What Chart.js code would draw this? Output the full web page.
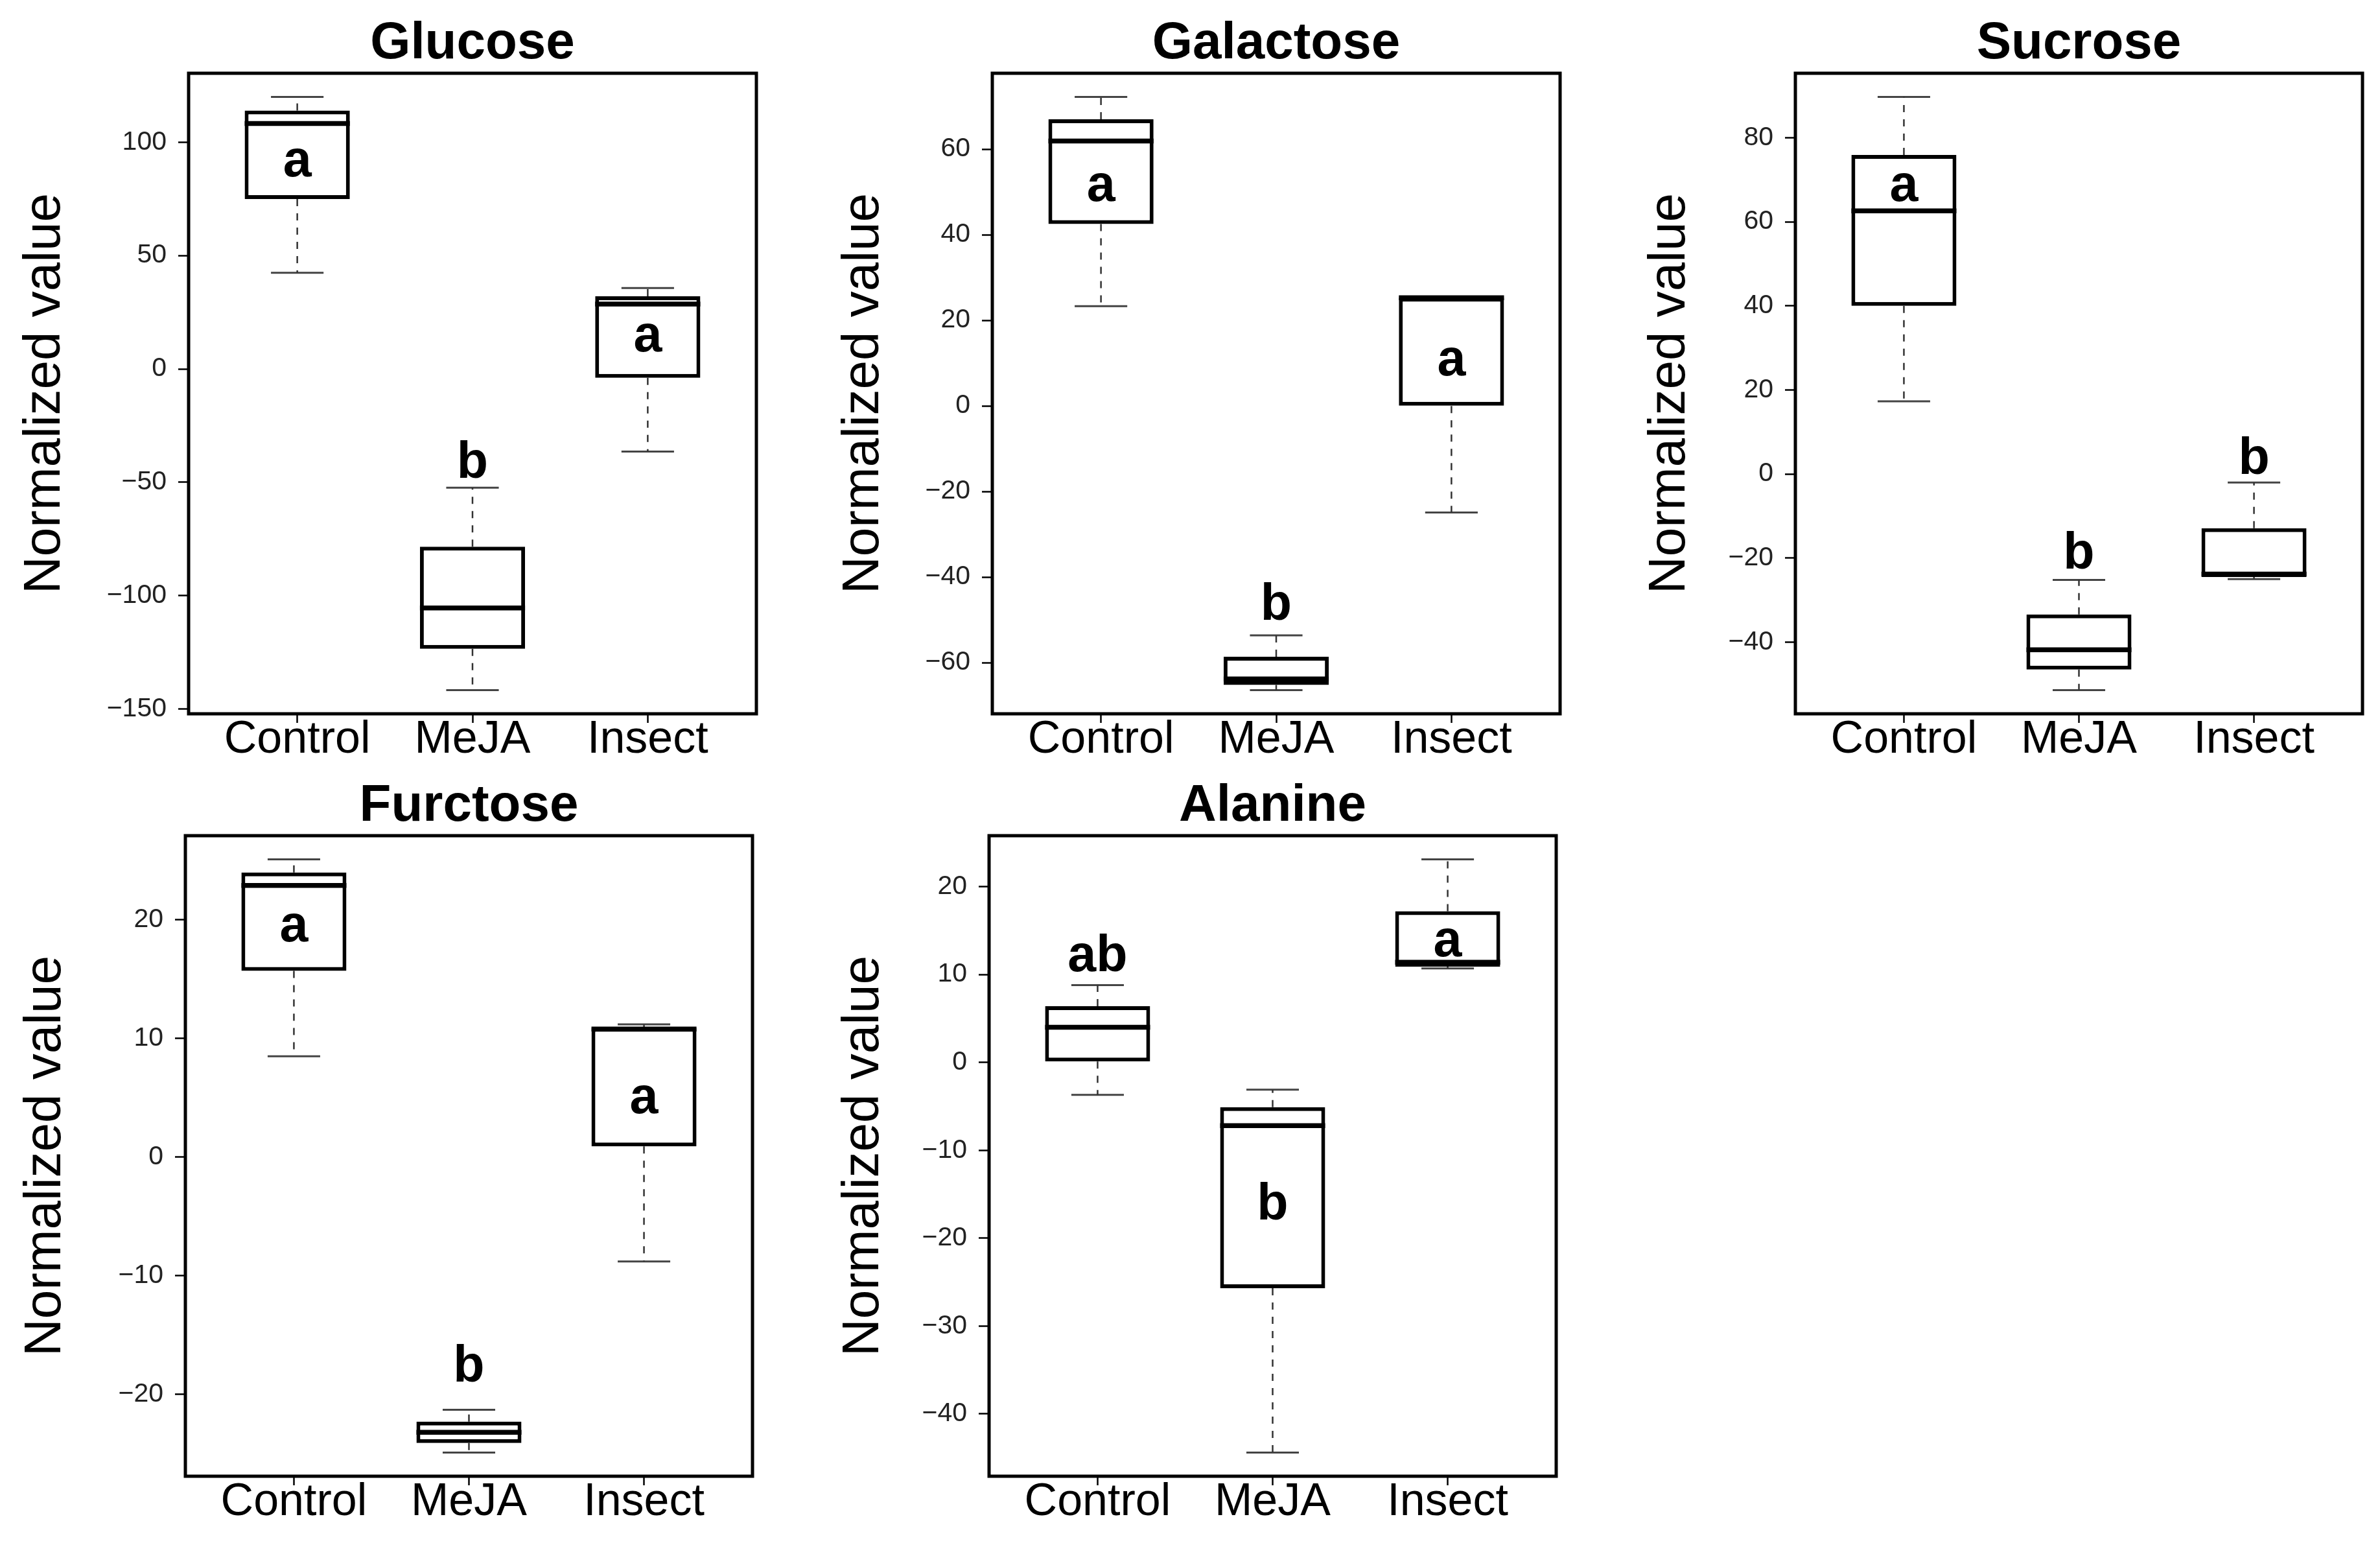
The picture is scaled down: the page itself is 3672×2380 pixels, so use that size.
<!DOCTYPE html>
<html><head><meta charset="utf-8">
<script src="https://cdn.jsdelivr.net/npm/chart.js@4"></script>
<style>
html,body{margin:0;padding:0;background:#fff;}
body{width:3672px;height:2380px;position:relative;overflow:hidden;}
.panel{position:absolute;}
</style></head><body>
<script>
const categories = ['Control', 'MeJA', 'Insect'];

const glucoseMin    = [42.4, -141.6, -36.4];
const glucoseQ1     = [74.9, -123.4, -3.9];
const glucoseMedian = [108.2, -105.4, 28.6];
const glucoseQ3     = [113.9, -78.4, 32.0];
const glucoseMax    = [119.9, -52.4, 35.7];
const glucoseLetters = ['a', 'b', 'a'];
const glucoseLetterY = [84.8, -48.1, 7.6];
const glucoseTicks = [-150, -100, -50, 0, 50, 100];

const galactoseMin    = [23.3, -66.4, -24.9];
const galactoseQ1     = [42.5, -65.2, 0.0];
const galactoseMedian = [61.9, -63.8, 25.3];
const galactoseQ3     = [67.0, -58.6, 25.3];
const galactoseMax    = [72.2, -53.6, 25.5];
const galactoseLetters = ['a', 'b', 'a'];
const galactoseLetterY = [47.9, -50.0, 7.2];
const galactoseTicks = [-60, -40, -20, 0, 20, 40, 60];

const sucroseMin    = [17.3, -51.4, -25.0];
const sucroseQ1     = [40.0, -46.5, -24.5];
const sucroseMedian = [62.6, -41.8, -23.8];
const sucroseQ3     = [75.9, -33.4, -12.9];
const sucroseMax    = [89.7, -25.2, -2.0];
const sucroseLetters = ['a', 'b', 'b'];
const sucroseLetterY = [65.0, -22.5, 0.1];
const sucroseTicks = [-40, -20, 0, 20, 40, 60, 80];

const furctoseMin    = [8.5, -24.9, -8.8];
const furctoseQ1     = [15.7, -24.1, 0.9];
const furctoseMedian = [22.9, -23.2, 10.8];
const furctoseQ3     = [24.0, -22.3, 10.9];
const furctoseMax    = [25.1, -21.3, 11.2];
const furctoseLetters = ['a', 'b', 'a'];
const furctoseLetterY = [18.2, -18.9, 3.7];
const furctoseTicks = [-20, -10, 0, 10, 20];

const alanineMin    = [-3.7, -44.4, 10.7];
const alanineQ1     = [0.1, -25.7, 10.9];
const alanineMedian = [4.0, -7.2, 11.4];
const alanineQ3     = [6.4, -5.1, 17.2];
const alanineMax    = [8.8, -3.1, 23.1];
const alanineLetters = ['ab', 'b', 'a'];
const alanineLetterY = [10.4, -17.9, 12.1];
const alanineTicks = [-40, -30, -20, -10, 0, 10, 20];

// layout (page pixels): frame [left, top, right, bottom], y-title centre x
const panels = [
  {title: 'Glucose',   min: glucoseMin,   q1: glucoseQ1,   med: glucoseMedian,   q3: glucoseQ3,   max: glucoseMax,   letters: glucoseLetters,   letterY: glucoseLetterY,   ticks: glucoseTicks,   frame: [291, 113, 1167, 1101],  yTitleX: 70},
  {title: 'Galactose', min: galactoseMin, q1: galactoseQ1, med: galactoseMedian, q3: galactoseQ3, max: galactoseMax, letters: galactoseLetters, letterY: galactoseLetterY, ticks: galactoseTicks, frame: [1531, 113, 2407, 1101], yTitleX: 1333},
  {title: 'Sucrose',   min: sucroseMin,   q1: sucroseQ1,   med: sucroseMedian,   q3: sucroseQ3,   max: sucroseMax,   letters: sucroseLetters,   letterY: sucroseLetterY,   ticks: sucroseTicks,   frame: [2770, 113, 3645, 1101], yTitleX: 2577},
  {title: 'Furctose',  min: furctoseMin,  q1: furctoseQ1,  med: furctoseMedian,  q3: furctoseQ3,  max: furctoseMax,  letters: furctoseLetters,  letterY: furctoseLetterY,  ticks: furctoseTicks,  frame: [286, 1289, 1161, 2277], yTitleX: 71},
  {title: 'Alanine',   min: alanineMin,   q1: alanineQ1,   med: alanineMedian,   q3: alanineQ3,   max: alanineMax,   letters: alanineLetters,   letterY: alanineLetterY,   ticks: alanineTicks,   frame: [1526, 1289, 2401, 2277], yTitleX: 1333}
];

const FONT = "'Liberation Sans', Arial, Helvetica, sans-serif";
const TITLE_SIZE = 80, TITLE_PT = 28, TITLE_PB = 5;
const YTITLE_SIZE = 80;
const X_AXIS_H = 72;
const RIGHT_PAD = 20;
const BOX_HALF = 0.3, CAP_HALF = 0.15;

function fmt(v) { return v < 0 ? '\u2212' + Math.abs(v) : String(v); }

function makePanel(p) {
  const [fl, ft, fr, fb] = p.frame;
  const titleBlock = TITLE_PT + TITLE_SIZE + TITLE_PB;
  const left = p.yTitleX - YTITLE_SIZE / 2;
  const top = ft - titleBlock;
  const width = fr + RIGHT_PAD - left;
  const height = fb + X_AXIS_H - top;
  const div = document.createElement('div');
  div.className = 'panel';
  div.style.left = left + 'px'; div.style.top = top + 'px';
  div.style.width = width + 'px'; div.style.height = height + 'px';
  const cv = document.createElement('canvas');
  div.appendChild(cv);
  document.body.appendChild(div);
  const yAxisW = fl - left;

  const lo = Math.min(...p.min), hi = Math.max(...p.max);
  const ext = (hi - lo) * 0.04;

  const boxes = [], medians = [], whiskers = [], caps = [];
  categories.forEach((c, i) => {
    const x = i + 1;
    boxes.push({x: x, y: [p.q1[i], p.q3[i]]});
    medians.push({x: x - BOX_HALF, y: p.med[i]}, {x: x + BOX_HALF, y: p.med[i]}, {x: x, y: null});
    whiskers.push({x: x, y: p.q3[i]}, {x: x, y: p.max[i]}, {x: x, y: null},
                  {x: x, y: p.q1[i]}, {x: x, y: p.min[i]}, {x: x, y: null});
    caps.push({x: x - CAP_HALF, y: p.max[i]}, {x: x + CAP_HALF, y: p.max[i]}, {x: x, y: null},
              {x: x - CAP_HALF, y: p.min[i]}, {x: x + CAP_HALF, y: p.min[i]}, {x: x, y: null});
  });

  const framePlugin = {
    id: 'frame',
    afterDraw(chart) {
      const a = chart.chartArea, ctx = chart.ctx;
      ctx.save();
      ctx.strokeStyle = '#000'; ctx.lineWidth = 5;
      ctx.strokeRect(a.left, a.top, a.right - a.left, a.bottom - a.top);
      ctx.restore();
    }
  };
  const letterPlugin = {
    id: 'letters',
    afterDatasetsDraw(chart) {
      const ctx = chart.ctx, xs = chart.scales.x, ys = chart.scales.y;
      ctx.save();
      ctx.fillStyle = '#000';
      ctx.font = 'bold 79px ' + FONT;
      ctx.textAlign = 'center'; ctx.textBaseline = 'alphabetic';
      p.letters.forEach((t, i) => {
        ctx.fillText(t, xs.getPixelForValue(i + 1), ys.getPixelForValue(p.letterY[i]));
      });
      ctx.restore();
    }
  };

  const gridCommon = {display: true, drawOnChartArea: false, drawTicks: true, color: '#000', tickColor: '#000', tickWidth: 2.5, offset: false};

  new Chart(cv, {
    type: 'bar',
    data: {
      datasets: [
        {type: 'line', data: medians, borderColor: '#000', borderWidth: 7.5, pointRadius: 0, spanGaps: false, borderCapStyle: 'butt', order: 0},
        {type: 'bar', data: boxes, backgroundColor: '#fff', borderColor: '#000', borderWidth: 6, borderSkipped: false, barPercentage: 2 * BOX_HALF, categoryPercentage: 1.0, order: 1},
        {type: 'line', data: whiskers, borderColor: '#333', borderWidth: 2.5, borderDash: [11, 11], pointRadius: 0, spanGaps: false, order: 2},
        {type: 'line', data: caps, borderColor: '#444', borderWidth: 3, pointRadius: 0, spanGaps: false, order: 2}
      ]
    },
    options: {
      responsive: true, maintainAspectRatio: false, devicePixelRatio: 1, animation: false, events: [],
      layout: {padding: {left: 0, right: RIGHT_PAD, top: 0, bottom: 0}},
      plugins: {
        legend: {display: false}, tooltip: {enabled: false},
        title: {display: true, text: p.title, fullSize: false, color: '#000',
                font: {family: FONT, size: TITLE_SIZE, weight: 'bold', lineHeight: 1},
                padding: {top: TITLE_PT, bottom: TITLE_PB}}
      },
      scales: {
        x: {
          type: 'linear', min: 0.38, max: 3.62, offset: false,
          afterBuildTicks: s => { s.ticks = categories.map((c, i) => ({value: i + 1})); },
          afterFit: s => { s.height = X_AXIS_H; },
          ticks: {callback: v => categories[v - 1], color: '#000', padding: -8, maxRotation: 0, autoSkip: false,
                  font: {family: FONT, size: 70, lineHeight: 1}},
          grid: Object.assign({}, gridCommon, {tickLength: 14}),
          border: {display: false}
        },
        y: {
          type: 'linear', min: lo - ext, max: hi + ext,
          afterBuildTicks: s => { s.ticks = p.ticks.map(v => ({value: v})); },
          afterFit: s => { s.width = yAxisW; },
          ticks: {callback: v => fmt(v), color: '#222', padding: 18, font: {family: FONT, size: 41}},
          grid: Object.assign({}, gridCommon, {tickLength: 16}),
          border: {display: false},
          title: {display: true, text: 'Normalized value', color: '#000', padding: 0,
                  font: {family: FONT, size: YTITLE_SIZE, lineHeight: 1}}
        }
      }
    },
    plugins: [framePlugin, letterPlugin]
  });
}

panels.forEach(makePanel);
</script>
</body></html>
